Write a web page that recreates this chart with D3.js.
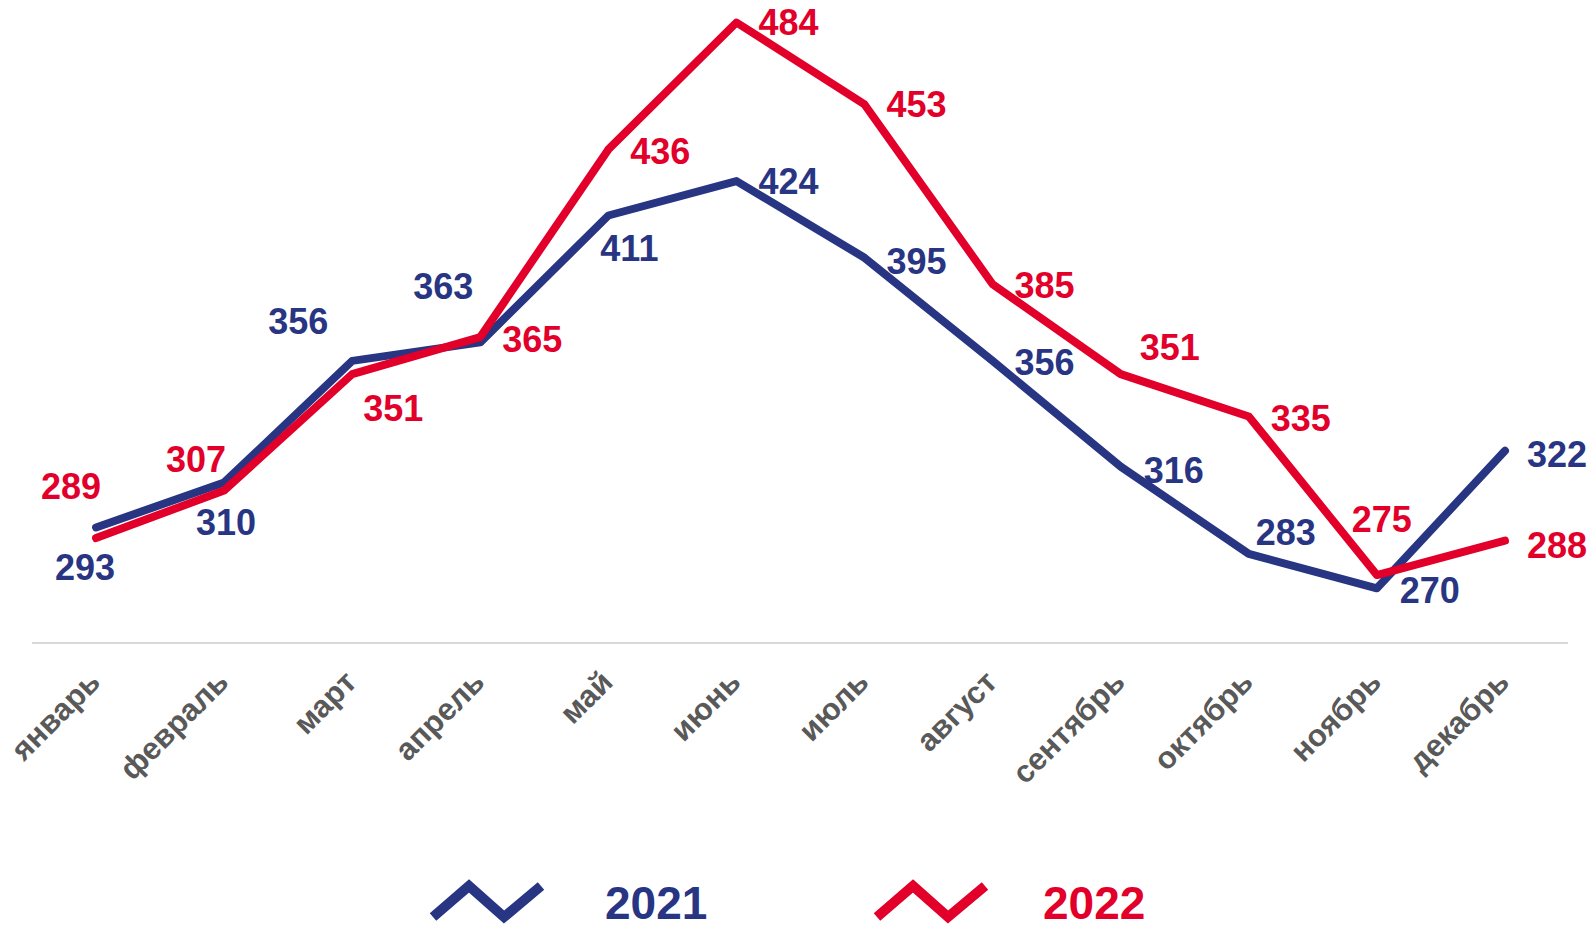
<!DOCTYPE html>
<html>
<head>
<meta charset="utf-8">
<script src="https://cdn.jsdelivr.net/npm/d3@7"></script>
<style>
  html, body { margin: 0; padding: 0; background: #fff; }
  svg { display: block; font-family: "Liberation Sans", Arial, sans-serif; }
</style>
</head>
<body>
<svg id="chart" width="1596" height="925"></svg>
<script>
const months = ["январь","февраль","март","апрель","май","июнь","июль","август","сентябрь","октябрь","ноябрь","декабрь"];
const values2021 = [293, 310, 356, 363, 411, 424, 395, 356, 316, 283, 270, 322];
const values2022 = [289, 307, 351, 365, 436, 484, 453, 385, 351, 335, 275, 288];
const seriesNames = ["2021", "2022"];

// label offsets (layout only, relative to each point)
const offsets2021 = [[-11,40],[2,40],[-54,-40],[-37,-56],[21,33],[52,0],[52,3],[52,1],[53,3],[37,-22],[53,2],[52,3]];
const offsets2022 = [[-25,-52],[-28,-31],[41,34],[52,2],[52,2],[52,0],[52,0],[52,1],[49,-27],[52,2],[5,-56],[52,4]];

const colors = ["#283583", "#E2002B"];
const svg = d3.select("#chart");

const x = d3.scalePoint().domain(months).range([32, 1569]).padding(0.5);
const y = d3.scaleLinear().domain([249.3, 484]).range([643, 22.5]);

// axis line
svg.append("line")
  .attr("x1", 32).attr("x2", 1568)
  .attr("y1", y(249.3)).attr("y2", y(249.3))
  .attr("stroke", "#D9D9D9").attr("stroke-width", 2);

// axis labels
svg.append("g").selectAll("text").data(months).enter().append("text")
  .attr("transform", d => `translate(${x(d) + 6},${y(249.3) + 41}) rotate(-45)`)
  .attr("text-anchor", "end")
  .attr("font-size", 31)
  .attr("font-weight", "bold")
  .attr("fill", "#595959")
  .text(d => d);

const series = [
  {name: seriesNames[0], values: values2021, offs: offsets2021, color: colors[0]},
  {name: seriesNames[1], values: values2022, offs: offsets2022, color: colors[1]}
];

const line = d3.line().x((d, i) => x(months[i])).y(d => y(d));

series.forEach(s => {
  svg.append("path")
    .attr("d", line(s.values))
    .attr("fill", "none")
    .attr("stroke", s.color)
    .attr("stroke-width", 8)
    .attr("stroke-linejoin", "round")
    .attr("stroke-linecap", "round");
});

series.forEach(s => {
  svg.append("g").selectAll("text").data(s.values).enter().append("text")
    .attr("x", (d, i) => x(months[i]) + s.offs[i][0])
    .attr("y", (d, i) => y(d) + s.offs[i][1])
    .attr("dy", "0.36em")
    .attr("text-anchor", "middle")
    .attr("font-size", 36)
    .attr("font-weight", "bold")
    .attr("fill", s.color)
    .text(d => d);
});

// legend
const legendX = [433, 877];
const legendTextX = [605, 1043];
const zig = d3.line();
series.forEach((s, k) => {
  const lx = legendX[k];
  svg.append("path")
    .attr("d", zig([[lx, 917], [lx + 36, 886], [lx + 71, 917], [lx + 108, 886]]))
    .attr("fill", "none")
    .attr("stroke", s.color)
    .attr("stroke-width", 10)
    .attr("stroke-linejoin", "miter")
    .attr("stroke-linecap", "butt");
  svg.append("text")
    .attr("x", legendTextX[k])
    .attr("y", 919)
    .attr("font-size", 46)
    .attr("font-weight", "bold")
    .attr("fill", s.color)
    .text(s.name);
});
</script>
</body>
</html>
